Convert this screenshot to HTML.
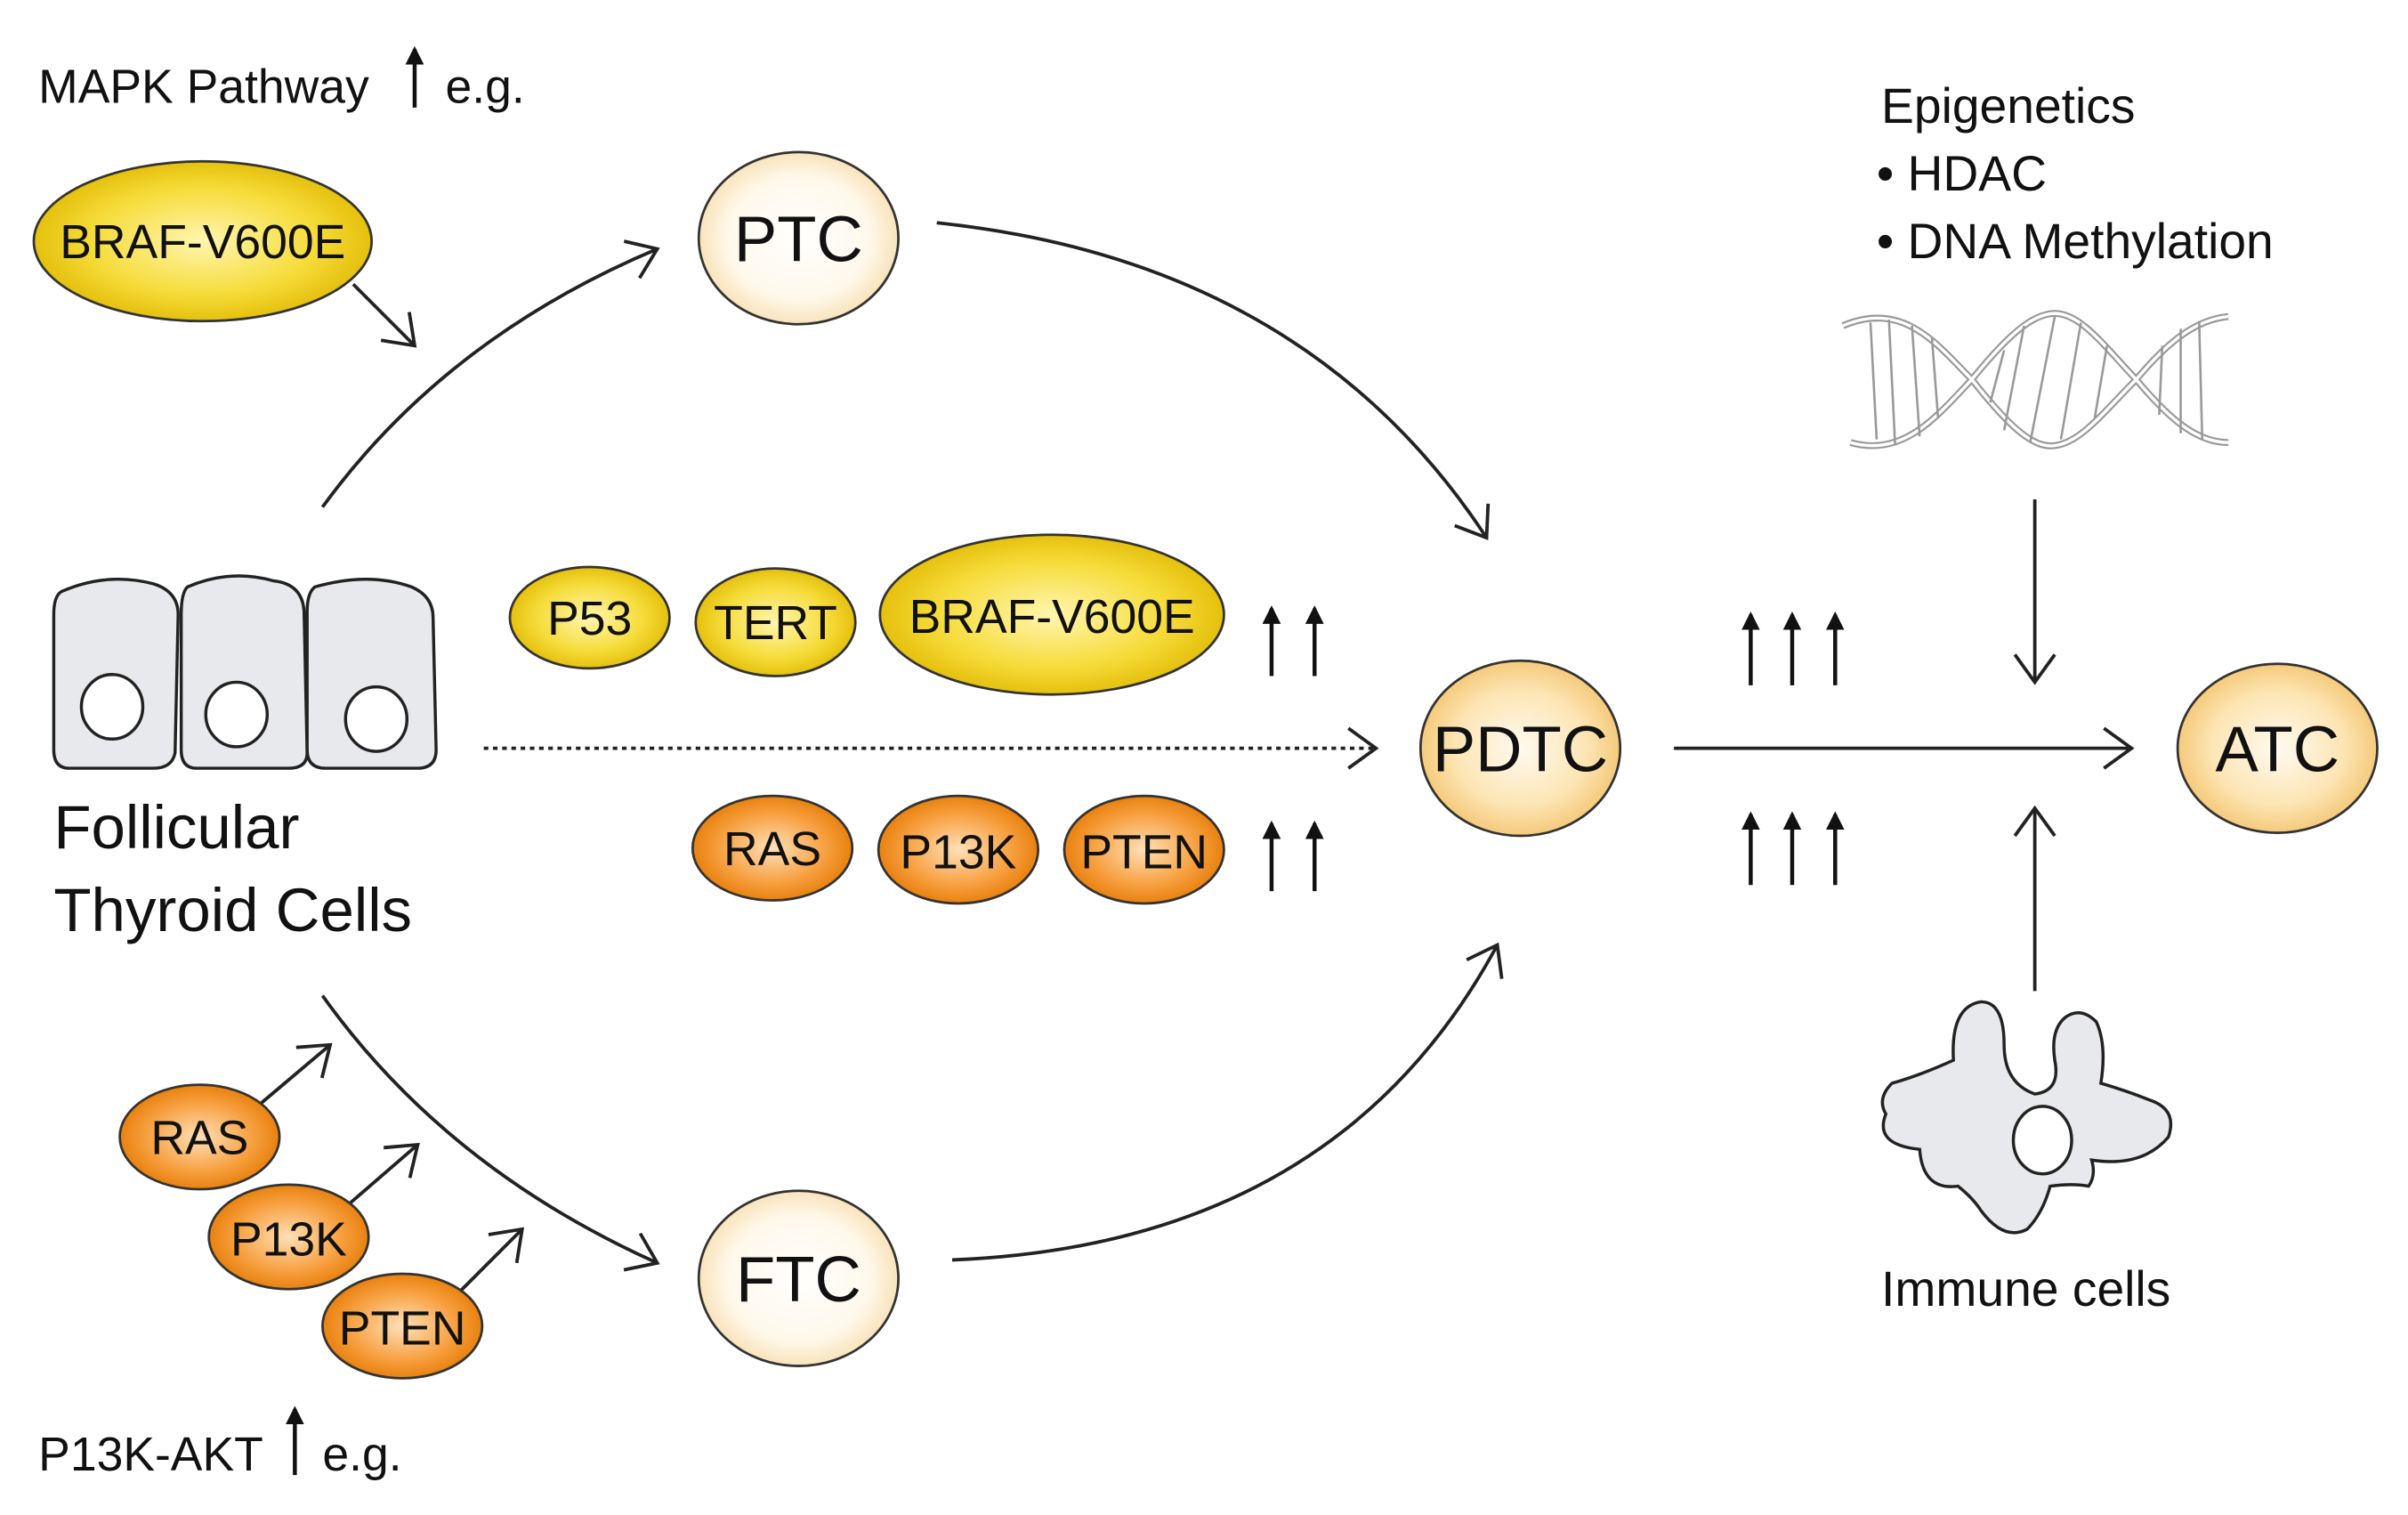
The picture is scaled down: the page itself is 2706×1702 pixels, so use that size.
<!DOCTYPE html>
<html><head><meta charset="utf-8"><style>
html,body{margin:0;padding:0;background:#fff;}
svg{display:block;}
text{font-family:"Liberation Sans Narrow","Liberation Sans",sans-serif;fill:#111;}
</style></head><body>
<svg width="2706" height="1702" viewBox="0 0 1568 986" preserveAspectRatio="none" xmlns="http://www.w3.org/2000/svg">
<defs>
<radialGradient id="yel" cx="50%" cy="50%" r="55%"><stop offset="0" stop-color="#fff6b0"/><stop offset="0.6" stop-color="#f6dc3a"/><stop offset="1" stop-color="#e0b800"/></radialGradient>
<radialGradient id="org" cx="50%" cy="50%" r="55%"><stop offset="0" stop-color="#ffe0b8"/><stop offset="0.6" stop-color="#f7a040"/><stop offset="1" stop-color="#e47800"/></radialGradient>
<radialGradient id="pale" cx="50%" cy="50%" r="55%"><stop offset="0" stop-color="#ffffff"/><stop offset="0.65" stop-color="#fff8ea"/><stop offset="1" stop-color="#f6dcaa"/></radialGradient>
<radialGradient id="pale2" cx="50%" cy="50%" r="55%"><stop offset="0" stop-color="#fffaf0"/><stop offset="0.6" stop-color="#fde5b4"/><stop offset="1" stop-color="#f2c26a"/></radialGradient>
<marker id="ahb" markerWidth="24" markerHeight="30" refX="20" refY="15" orient="auto" markerUnits="userSpaceOnUse"><path d="M2,2 L20,15 L2,28" fill="none" stroke="#222" stroke-width="2.2"/></marker>
<marker id="solid" markerWidth="12" markerHeight="12" refX="10" refY="6" orient="auto" markerUnits="userSpaceOnUse"><path d="M0,0 L12,6 L0,12 Z" fill="#111"/></marker>
</defs>
<g stroke="#222" stroke-width="2.2" fill="none">
<path d="M210,330 Q290,220 428,162" marker-end="url(#ahb)"/>
<path d="M610,145 Q850,170 968,350" marker-end="url(#ahb)"/>
<path d="M210,648 Q290,760 428,822" marker-end="url(#ahb)"/>
<path d="M620,820 Q870,810 975,615" marker-end="url(#ahb)"/>
<path d="M1090,487 L1388,487" marker-end="url(#ahb)"/>
<path d="M315,487 L896,487" stroke-dasharray="3,3" marker-end="url(#ahb)"/>
<path d="M1325,325 L1325,444" marker-end="url(#ahb)"/>
<path d="M1325,645 L1325,526" marker-end="url(#ahb)"/>
<path d="M230,185 L270,225" marker-end="url(#ahb)"/>
<path d="M170,718 L215,680" marker-end="url(#ahb)"/>
<path d="M228,783 L272,745" marker-end="url(#ahb)"/>
<path d="M300,840 L340,800" marker-end="url(#ahb)"/>
</g>
<g stroke="#111" stroke-width="2.6">
<line x1="270" y1="70" x2="270" y2="32" marker-end="url(#solid)"/>
<line x1="192" y1="960" x2="192" y2="917" marker-end="url(#solid)"/>
<line x1="828" y1="440" x2="828" y2="396" marker-end="url(#solid)"/>
<line x1="856" y1="440" x2="856" y2="396" marker-end="url(#solid)"/>
<line x1="828" y1="580" x2="828" y2="536" marker-end="url(#solid)"/>
<line x1="856" y1="580" x2="856" y2="536" marker-end="url(#solid)"/>
<line x1="1140" y1="446" x2="1140" y2="400" marker-end="url(#solid)"/>
<line x1="1167" y1="446" x2="1167" y2="400" marker-end="url(#solid)"/>
<line x1="1195" y1="446" x2="1195" y2="400" marker-end="url(#solid)"/>
<line x1="1140" y1="576" x2="1140" y2="530" marker-end="url(#solid)"/>
<line x1="1167" y1="576" x2="1167" y2="530" marker-end="url(#solid)"/>
<line x1="1195" y1="576" x2="1195" y2="530" marker-end="url(#solid)"/>
</g>
<g fill="#e8e9ec" stroke="#222" stroke-width="2">
<path d="M40,385 Q70,372 100,380 Q116,385 116,400 L114,490 Q112,500 100,500 L45,500 Q35,500 35,488 L35,400 Q35,388 40,385Z"/>
<path d="M122,382 Q150,370 178,378 Q197,380 198,398 L200,490 Q200,500 188,500 L128,500 Q118,500 118,488 L118,400 Q118,386 122,382Z"/>
<path d="M205,382 Q240,372 268,382 Q282,388 282,402 L284,488 Q284,500 272,500 L212,500 Q200,500 200,488 L200,398 Q200,386 205,382Z"/>
</g>
<g fill="#fff" stroke="#222" stroke-width="2">
<ellipse cx="73" cy="460" rx="20" ry="21"/><ellipse cx="154" cy="465" rx="20" ry="21"/><ellipse cx="245" cy="468" rx="20" ry="21"/>
</g>
<g stroke="#333" stroke-width="1.6">
<ellipse cx="132" cy="157" rx="110" ry="52" fill="url(#yel)"/>
<ellipse cx="384" cy="402" rx="52" ry="33" fill="url(#yel)"/>
<ellipse cx="505" cy="405" rx="52" ry="35" fill="url(#yel)"/>
<ellipse cx="685" cy="400" rx="112" ry="52" fill="url(#yel)"/>
<ellipse cx="503" cy="552" rx="52" ry="34" fill="url(#org)"/>
<ellipse cx="624" cy="553" rx="52" ry="35" fill="url(#org)"/>
<ellipse cx="745" cy="553" rx="52" ry="35" fill="url(#org)"/>
<ellipse cx="130" cy="740" rx="52" ry="34" fill="url(#org)"/>
<ellipse cx="188" cy="805" rx="52" ry="34" fill="url(#org)"/>
<ellipse cx="262" cy="863" rx="52" ry="34" fill="url(#org)"/>
<ellipse cx="520" cy="155" rx="65" ry="56" fill="url(#pale)"/>
<ellipse cx="520" cy="832" rx="65" ry="57" fill="url(#pale)"/>
<ellipse cx="990" cy="487" rx="65" ry="57" fill="url(#pale2)"/>
<ellipse cx="1483" cy="487" rx="65" ry="55" fill="url(#pale2)"/>
</g>
<!-- DNA -->
<g id="dnastr" fill="none">
<path d="M1200,212 C1240,195 1262,225 1284,247 C1310,280 1325,292 1338,290 C1355,288 1370,268 1391,247 C1412,222 1430,208 1451,206" stroke="#999" stroke-width="4.5"/>
<path d="M1205,288 C1240,298 1262,270 1284,247 C1310,215 1325,204 1338,204 C1355,204 1370,225 1391,247 C1412,272 1430,288 1451,288" stroke="#999" stroke-width="4.5"/>
<path d="M1200,212 C1240,195 1262,225 1284,247 C1310,280 1325,292 1338,290 C1355,288 1370,268 1391,247 C1412,222 1430,208 1451,206" stroke="#fff" stroke-width="2"/>
<path d="M1205,288 C1240,298 1262,270 1284,247 C1310,215 1325,204 1338,204 C1355,204 1370,225 1391,247 C1412,272 1430,288 1451,288" stroke="#fff" stroke-width="2"/>
</g>
<g stroke="#999" stroke-width="1.5">
<line x1="1218" y1="210" x2="1222" y2="286"/><line x1="1230" y1="208" x2="1234" y2="289"/>
<line x1="1245" y1="212" x2="1250" y2="284"/><line x1="1258" y1="220" x2="1262" y2="272"/>
<line x1="1305" y1="228" x2="1296" y2="262"/><line x1="1318" y1="212" x2="1305" y2="280"/>
<line x1="1338" y1="206" x2="1322" y2="288"/><line x1="1355" y1="210" x2="1342" y2="286"/>
<line x1="1372" y1="225" x2="1364" y2="272"/>
<line x1="1408" y1="225" x2="1406" y2="270"/><line x1="1420" y1="214" x2="1420" y2="282"/>
<line x1="1432" y1="209" x2="1434" y2="286"/>
</g>
<!-- immune cell -->
<path d="M1325,712 Q1305,705 1305,680 Q1305,652 1290,652 Q1270,655 1272,690 Q1250,700 1232,705 Q1222,715 1228,725 Q1220,745 1250,748 Q1252,775 1275,772 Q1285,780 1290,788 Q1305,808 1320,800 Q1330,790 1335,772 Q1350,770 1360,772 Q1365,765 1362,755 Q1395,760 1412,740 Q1418,722 1400,716 Q1385,710 1368,705 Q1372,680 1365,665 Q1355,655 1345,662 Q1335,670 1338,690 Q1342,710 1325,712 Z" fill="#e8e9ec" stroke="#222" stroke-width="2"/>
<ellipse cx="1330" cy="742" rx="19" ry="22" fill="#fff" stroke="#222" stroke-width="2"/>
<text x="25" y="67" font-size="31">MAPK Pathway</text>
<text x="290" y="67" font-size="31">e.g.</text>
<text x="25" y="957" font-size="31">P13K-AKT</text>
<text x="210" y="957" font-size="31">e.g.</text>
<g font-size="31" text-anchor="middle">
<text x="132" y="168">BRAF-V600E</text>
<text x="384" y="413">P53</text>
<text x="505" y="416">TERT</text>
<text x="685" y="412">BRAF-V600E</text>
<text x="503" y="563">RAS</text>
<text x="624" y="565">P13K</text>
<text x="745" y="565">PTEN</text>
<text x="130" y="751">RAS</text>
<text x="188" y="817">P13K</text>
<text x="262" y="875">PTEN</text>
</g>
<g font-size="42" text-anchor="middle">
<text x="520" y="170">PTC</text>
<text x="520" y="847">FTC</text>
<text x="990" y="502">PDTC</text>
<text x="1483" y="502">ATC</text>
</g>
<text x="35" y="552" font-size="40">Follicular</text>
<text x="35" y="606" font-size="40">Thyroid Cells</text>
<text x="1225" y="80" font-size="32">Epigenetics</text>
<text x="1222" y="124" font-size="32">• HDAC</text>
<text x="1222" y="168" font-size="32">• DNA Methylation</text>
<text x="1225" y="850" font-size="32">Immune cells</text>
</svg>
</body></html>
